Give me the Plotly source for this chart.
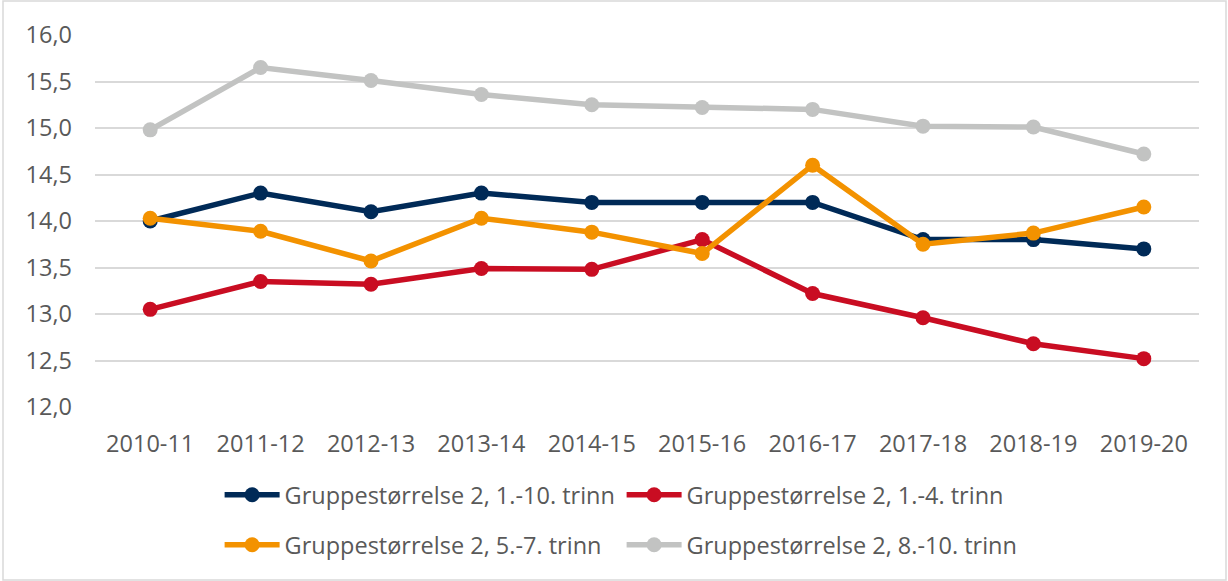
import plotly.graph_objects as go

years = ["2010-11", "2011-12", "2012-13", "2013-14", "2014-15",
         "2015-16", "2016-17", "2017-18", "2018-19", "2019-20"]

names = ["Gruppestørrelse 2, 1.-10. trinn", "Gruppestørrelse 2, 1.-4. trinn",
         "Gruppestørrelse 2, 5.-7. trinn", "Gruppestørrelse 2, 8.-10. trinn"]

trinn_1_10 = [14.0, 14.3, 14.1, 14.3, 14.2, 14.2, 14.2, 13.8, 13.8, 13.7]
trinn_1_4 = [13.05, 13.35, 13.32, 13.49, 13.48, 13.8, 13.22, 12.96, 12.68, 12.52]
trinn_5_7 = [14.03, 13.89, 13.57, 14.03, 13.88, 13.65, 14.6, 13.75, 13.87, 14.15]
trinn_8_10 = [14.98, 15.65, 15.51, 15.36, 15.25, 15.22, 15.2, 15.02, 15.01, 14.72]

y_ticks = [12.0, 12.5, 13.0, 13.5, 14.0, 14.5, 15.0, 15.5, 16.0]
y_labels = ["12,0", "12,5", "13,0", "13,5", "14,0", "14,5", "15,0", "15,5", "16,0"]

colors = ["#002A57", "#C90D22", "#F39200", "#C2C3C2"]
series = [trinn_1_10, trinn_1_4, trinn_5_7, trinn_8_10]
legends = ["legend", "legend", "legend2", "legend2"]

FONT = "Open Sans"
TXT = "#595959"
FS = 23.5

fig = go.Figure()
for name, vals, col, lg in zip(names, series, colors, legends):
    fig.add_trace(go.Scatter(
        x=years, y=vals, name=name, mode="lines+markers",
        line=dict(color=col, width=5.5),
        marker=dict(color=col, size=15),
        legend=lg,
    ))

legend_common = dict(
    orientation="h", x=0.477, xanchor="center", yanchor="middle",
    font=dict(family=FONT, size=FS, color=TXT),
    entrywidth=332, entrywidthmode="pixels",
    itemwidth=55, bgcolor="rgba(0,0,0,0)",
    traceorder="normal",
)

fig.update_layout(
    width=1228, height=581,
    margin=dict(l=95, r=29, t=35, b=174),
    plot_bgcolor="white", paper_bgcolor="white",
    font=dict(family=FONT, color=TXT),
    showlegend=True,
    legend=dict(legend_common, y=-0.2366),
    legend2=dict(legend_common, y=-0.371),
    xaxis=dict(
        type="category", range=[-0.5, 9.5], showgrid=False, zeroline=False,
        showline=False, ticks="", ticklabelstandoff=20,
        tickfont=dict(family=FONT, size=FS, color=TXT),
    ),
    yaxis=dict(
        range=[12.0, 16.0], tickvals=y_ticks, ticktext=y_labels,
        showgrid=True, gridcolor="#D9D9D9", gridwidth=1.5, zeroline=False,
        showline=False, ticks="", ticklabelstandoff=22,
        tickfont=dict(family=FONT, size=FS, color=TXT),
    ),
    shapes=[dict(
        type="rect", xref="paper", yref="paper",
        x0=(3 - 95) / 1104, x1=(1226 - 95) / 1104,
        y0=(407 - 580) / 372, y1=(407 - 1) / 372,
        line=dict(color="#D9D9D9", width=1.5), fillcolor="rgba(0,0,0,0)",
        layer="below",
    )],
)

fig.write_html("out.html", config={"displayModeBar": False},
               post_script="document.body.style.margin='0';")
